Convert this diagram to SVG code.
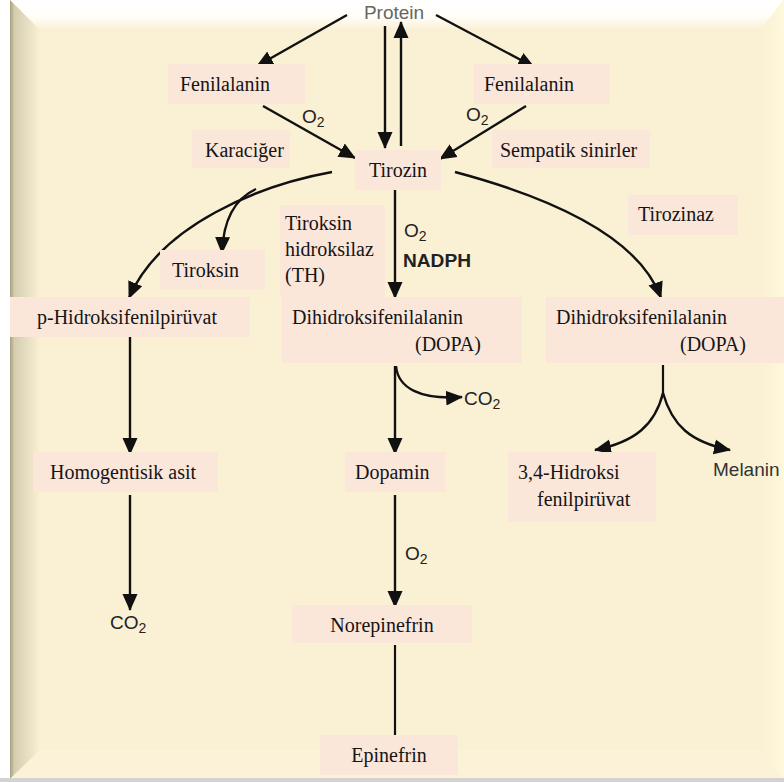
<svg xmlns="http://www.w3.org/2000/svg" width="784" height="782" viewBox="0 0 784 782">
<defs>
<linearGradient id="gTop" x1="0" y1="0" x2="0" y2="1"><stop offset="0" stop-color="#ffffff"/><stop offset="0.55" stop-color="#fffef8"/><stop offset="1" stop-color="#faf0d4"/></linearGradient>
<linearGradient id="gLeft" x1="0" y1="0" x2="1" y2="0"><stop offset="0" stop-color="#a8a080"/><stop offset="0.15" stop-color="#d4cdb0"/><stop offset="1" stop-color="#faf0d4"/></linearGradient>
<linearGradient id="gRight" x1="0" y1="0" x2="1" y2="0"><stop offset="0" stop-color="#faf0d4"/><stop offset="1" stop-color="#fff8dc"/></linearGradient>
<marker id="ah" markerUnits="userSpaceOnUse" markerWidth="18" markerHeight="18" viewBox="0 0 18 18" refX="16" refY="9" orient="auto"><path d="M0,1.5 L17,9 L0,16.5 Z" fill="#111"/></marker>
<style>
.box{fill:#fbe6da;}
.t{font-family:"Liberation Serif","Times New Roman",serif;font-size:20px;fill:#151515;}
.s{font-family:"Liberation Sans",Arial,sans-serif;font-size:19px;fill:#222;}
.ln{fill:none;stroke:#111;stroke-width:2.2;}
.ar{fill:none;stroke:#111;stroke-width:2.4;marker-end:url(#ah);}
</style>
</defs>
<g id="background">
<rect x="0" y="0" width="784" height="782" fill="#ffffff"/>
<rect x="10" y="0" width="774" height="779" fill="#faf0d4"/>
<polygon points="10,0 784,0 760,30 40,30" fill="url(#gTop)"/>
<polygon points="10,0 40,30 40,750 10,779" fill="url(#gLeft)"/>
<polygon points="784,0 760,30 760,750 784,779" fill="url(#gRight)"/>
<polygon points="10,779 40,750 760,750 784,779" fill="#fbf2d8"/>
<rect x="0" y="778" width="784" height="4" fill="#d2d2d2"/>
</g>
<g id="connectors">
<line class="ar" x1="347" y1="15" x2="257" y2="66"/>
<line class="ar" x1="436" y1="15" x2="534" y2="67"/>
<line class="ar" x1="385" y1="26" x2="385" y2="148"/>
<line class="ar" x1="401" y1="146" x2="401" y2="22"/>
<line class="ar" x1="263" y1="106" x2="355" y2="158"/>
<line class="ar" x1="526" y1="106" x2="440" y2="159"/>
<path class="ar" d="M332,172 C260,185 160,225 129,298"/>
<path class="ar" d="M256,189 C232,200 223,225 222,253"/>
<line class="ar" x1="395" y1="190" x2="395" y2="298"/>
<path class="ar" d="M455,172 C560,200 640,240 661,298"/>
<line class="ar" x1="130" y1="337" x2="130" y2="454"/>
<line class="ar" x1="130" y1="495" x2="130" y2="610"/>
<path class="ar" d="M396,366 C398,388 420,400 462,397"/>
<line class="ar" x1="395" y1="366" x2="395" y2="454"/>
<line class="ar" x1="395" y1="495" x2="395" y2="607"/>
<line class="ln" x1="395" y1="645" x2="395" y2="735"/>
<line class="ln" x1="663" y1="365" x2="663" y2="395"/>
<path class="ar" d="M663,393 C655,425 635,442 595,450"/>
<path class="ar" d="M663,393 C672,425 690,442 730,450"/>
</g>
<g id="protein"><text class="s" x="394" y="19" text-anchor="middle" style="fill:#666">Protein</text></g>
<g id="fenilalanin-left"><rect class="box" x="168" y="64" width="137" height="40"/><text class="t" x="180" y="91">Fenilalanin</text></g>
<g id="fenilalanin-right"><rect class="box" x="474" y="64" width="136" height="40"/><text class="t" x="484" y="91">Fenilalanin</text></g>
<g id="o2-left"><text class="s" x="302" y="123">O<tspan font-size="14" dy="4">2</tspan></text></g>
<g id="o2-right"><text class="s" x="466" y="121">O<tspan font-size="14" dy="4">2</tspan></text></g>
<g id="karaciger"><rect class="box" x="192" y="130" width="98" height="38"/><text class="t" x="205" y="157">Karaciğer</text></g>
<g id="sempatik"><rect class="box" x="492" y="130" width="158" height="38"/><text class="t" x="500" y="157">Sempatik sinirler</text></g>
<g id="tirozin"><rect class="box" x="355" y="150" width="86" height="40"/><text class="t" x="398" y="177" text-anchor="middle">Tirozin</text></g>
<g id="tiroksin"><rect class="box" x="160" y="250" width="105" height="40"/><text class="t" x="172" y="277">Tiroksin</text></g>
<g id="th"><rect class="box" x="280" y="205" width="105" height="92"/><text class="t" x="285" y="230">Tiroksin</text><text class="t" x="285" y="256">hidroksilaz</text><text class="t" x="285" y="282">(TH)</text></g>
<g id="o2-nadph"><text class="s" x="404" y="237">O<tspan font-size="14" dy="4">2</tspan></text><text class="s" x="403" y="267" font-weight="bold" textLength="68" lengthAdjust="spacingAndGlyphs">NADPH</text></g>
<g id="tirozinaz"><rect class="box" x="628" y="195" width="110" height="40"/><text class="t" x="638" y="221">Tirozinaz</text></g>
<g id="p-hidroksi"><rect class="box" x="10" y="297" width="240" height="40"/><text class="t" x="37" y="324">p-Hidroksifenilpirüvat</text></g>
<g id="dopa-mid"><rect class="box" x="282" y="297" width="240" height="66"/><text class="t" x="292" y="324">Dihidroksifenilalanin</text><text class="t" x="415" y="351">(DOPA)</text></g>
<g id="dopa-right"><rect class="box" x="546" y="297" width="238" height="66"/><text class="t" x="556" y="324">Dihidroksifenilalanin</text><text class="t" x="680" y="351">(DOPA)</text></g>
<g id="co2-mid"><text class="s" x="464" y="405">CO<tspan font-size="14" dy="4">2</tspan></text></g>
<g id="homogentisik"><rect class="box" x="33" y="452" width="185" height="40"/><text class="t" x="50" y="479">Homogentisik asit</text></g>
<g id="dopamin"><rect class="box" x="345" y="452" width="100" height="40"/><text class="t" x="355" y="479">Dopamin</text></g>
<g id="hidroksi34"><rect class="box" x="508" y="452" width="148" height="70"/><text class="t" x="518" y="479">3,4-Hidroksi</text><text class="t" x="537" y="506">fenilpirüvat</text></g>
<g id="melanin"><text class="s" x="713" y="476" style="fill:#333">Melanin</text></g>
<g id="co2-left"><text class="s" x="110" y="629">CO<tspan font-size="14" dy="4">2</tspan></text></g>
<g id="o2-low"><text class="s" x="405" y="560">O<tspan font-size="14" dy="4">2</tspan></text></g>
<g id="norepinefrin"><rect class="box" x="292" y="605" width="180" height="38"/><text class="t" x="382" y="632" text-anchor="middle">Norepinefrin</text></g>
<g id="epinefrin"><rect class="box" x="320" y="735" width="138" height="40"/><text class="t" x="389" y="762" text-anchor="middle">Epinefrin</text></g>
</svg>
